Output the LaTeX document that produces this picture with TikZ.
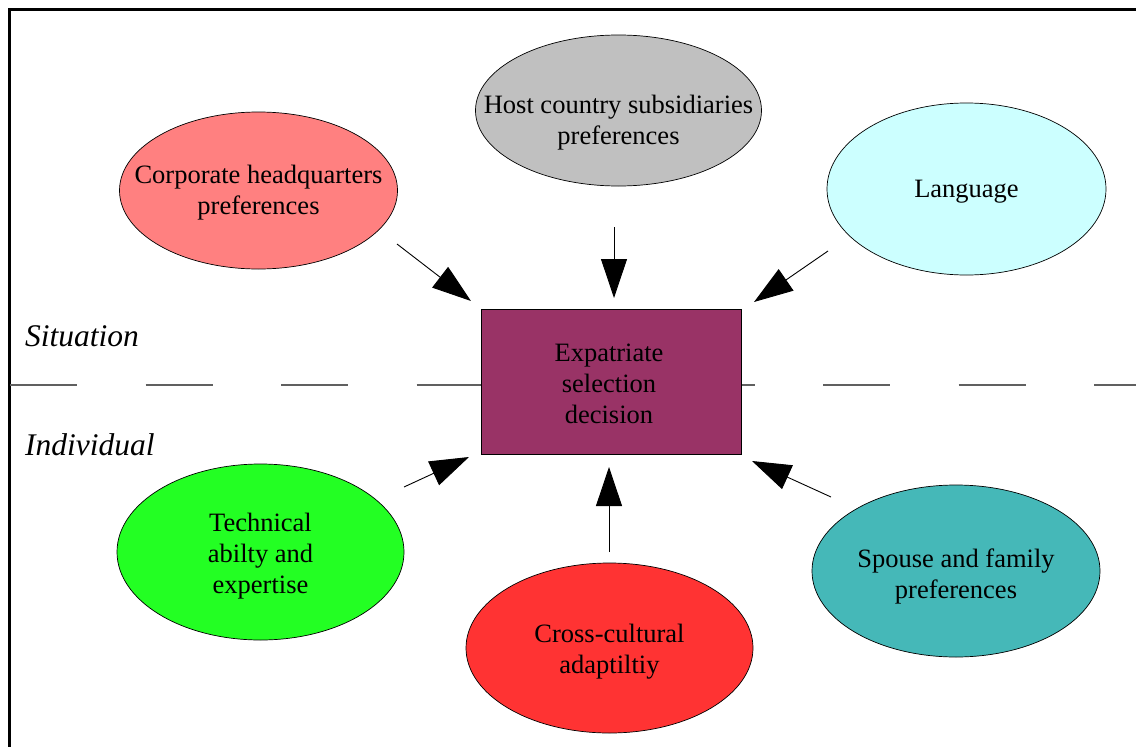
\documentclass[tikz,border=0pt]{standalone}
\usepackage{fontspec}
\setmainfont{Liberation Serif}
\usetikzlibrary{shapes.geometric,arrows.meta}
\definecolor{corpc}{HTML}{FF8080}
\definecolor{hostc}{HTML}{C0C0C0}
\definecolor{langc}{HTML}{CCFFFF}
\definecolor{techc}{HTML}{23FF23}
\definecolor{crossc}{HTML}{FF3333}
\definecolor{spousec}{HTML}{45B8B8}
\definecolor{boxc}{HTML}{993366}
\definecolor{dashc}{HTML}{606060}
\begin{document}
\begin{tikzpicture}[x=1pt,y=-1pt,
  bubble/.style={ellipse, draw=black, line width=0.7pt, inner sep=0pt},
  btext/.style={font=\fontsize{26.5}{31}\selectfont, align=center, inner sep=0pt},
  decisionbox/.style={rectangle, draw=black, line width=0.7pt, fill=boxc, minimum width=260pt, minimum height=145pt, inner sep=0pt},
  flow/.style={line width=0.9pt, -{Triangle[length=39pt,width=26pt]}},
  sidetext/.style={font=\fontsize{31.5}{36}\selectfont\itshape, inner sep=0pt, anchor=base west},
]
\useasboundingbox (0,0) rectangle (1136,747);
\clip (0,0) rectangle (1136,747);
\fill[white] (0,0) rectangle (1136,747);
% outer frame (extends beyond page)
\draw[line width=3pt] (9.5,9.5) rectangle (1200,800);
% dashed separator
\draw[dashc, line width=1.1pt, dash pattern=on 67pt off 68.5pt] (10,385) -- (1136,385);
% labels
\node[sidetext] (sit) at (25,346) {Situation};
\node[sidetext] (ind) at (25,455) {Individual};
% central box
\node[decisionbox] (box) at (611,381.5) {};
\node[btext] (boxt) at (609,383.5) {Expatriate\\selection\\decision};
% ellipses
\node[bubble, fill=corpc, minimum width=278pt, minimum height=157pt,
  label={[btext, yshift=-2.5pt]center:{Corporate headquarters\\preferences}}] (corp) at (258.5,190.5) {};
\node[bubble, fill=hostc, minimum width=286pt, minimum height=151pt,
  label={[btext, yshift=-12pt]center:{Host country subsidiaries\\preferences}}] (host) at (618.5,110.5) {};
\node[bubble, fill=langc, minimum width=279pt, minimum height=172pt,
  label={[btext, yshift=-3pt]center:{Language}}] (lang) at (966.5,189) {};
\node[bubble, fill=techc, minimum width=287pt, minimum height=176pt,
  label={[btext, yshift=-4pt]center:{Technical\\abilty and\\expertise}}] (tech) at (260.5,552) {};
\node[bubble, fill=crossc, minimum width=287pt, minimum height=170pt,
  label={[btext, yshift=-4pt]center:{Cross-cultural\\adaptiltiy}}] (cross) at (609.5,648) {};
\node[bubble, fill=spousec, minimum width=288pt, minimum height=172pt,
  label={[btext, yshift=-5pt]center:{Spouse and family\\preferences}}] (spouse) at (956,571) {};
% arrow end points
\coordinate (s1) at (397,244); \coordinate (e1) at (471,301);
\coordinate (s2) at (614,227); \coordinate (e2) at (614,298);
\coordinate (s3) at (828,251); \coordinate (e3) at (754,302);
\coordinate (s4) at (404,487); \coordinate (e4) at (469,457);
\coordinate (s5) at (609,552); \coordinate (e5) at (609,467);
\coordinate (s6) at (831,497); \coordinate (e6) at (752,461);
\draw[flow] (s1) -- (e1);
\draw[flow] (s2) -- (e2);
\draw[flow] (s3) -- (e3);
\draw[flow] (s4) -- (e4);
\draw[flow] (s5) -- (e5);
\draw[flow] (s6) -- (e6);
\end{tikzpicture}
\end{document}
